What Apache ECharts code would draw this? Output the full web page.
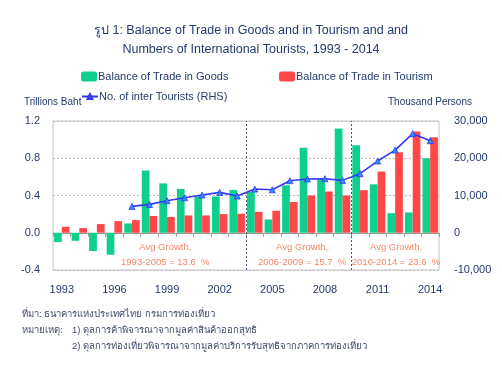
<!DOCTYPE html>
<html><head><meta charset="utf-8">
<script src="https://cdn.jsdelivr.net/npm/echarts@6/dist/echarts.min.js"></script>
<style>html,body{margin:0;padding:0;background:#fff}#c{width:502px;height:369px}</style>
</head><body><div id="c"></div>
<script>
const years = ['1993','1994','1995','1996','1997','1998','1999','2000','2001','2002','2003','2004','2005','2006','2007','2008','2009','2010','2011','2012','2013','2014'];
const goods = [-0.10,-0.086,-0.196,-0.236,0.10,0.668,0.53,0.47,0.39,0.39,0.46,0.44,0.143,0.51,0.914,0.575,1.12,0.94,0.52,0.21,0.218,0.80];
const tourism = [0.064,0.05,0.093,0.125,0.136,0.18,0.17,0.186,0.186,0.20,0.204,0.225,0.236,0.33,0.40,0.443,0.40,0.457,0.657,0.864,1.086,1.025];
const tourists = [null,null,null,null,7075,7612,8600,9400,10120,10835,9850,11730,11550,13970,14420,14500,14060,15850,19250,22200,26600,24700];
const leftTicks = [-0.4,0.0,0.4,0.8,1.2];
const rightTicks = [-10000,0,10000,20000,30000];
const periodBreaks = [11,17]; // category boundaries (index units)
const annotations = [
  {x:6.4, y:-0.16, text:'Avg Growth,'},
  {x:6.4, y:-0.32, text:'1993-2005 = 13.6  %'},
  {x:14.2, y:-0.16, text:'Avg Growth,'},
  {x:14.2, y:-0.32, text:'2006-2009 = 15.7  %'},
  {x:19.55, y:-0.16, text:'Avg Growth,'},
  {x:19.55, y:-0.32, text:'2010-2014 = 23.6  %'}
];
const names = {goods:'Balance of Trade in Goods', tourism:'Balance of Trade in Tourism', tourists:'No. of inter Tourists (RHS)'};

const FONT = '"Liberation Sans","Noto Sans",sans-serif';
const NAVY = '#243a6b';
const chart = echarts.init(document.getElementById('c'), null, {renderer:'canvas'});
chart.setOption({
  animation:false,
  textStyle:{fontFamily:FONT},
  title:{text:'รูป 1: Balance of Trade in Goods and in Tourism and and\nNumbers of International Tourists, 1993 - 2014',
    left:'center', top:21, padding:0,
    textStyle:{fontSize:12.5, fontWeight:'normal', color:NAVY, lineHeight:19, fontFamily:FONT, align:'center'}},
  legend:[
    {data:[names.goods], left:81, top:71, itemWidth:16, itemHeight:10, padding:0, textStyle:{fontSize:11,color:NAVY, padding:[0,0,0,-4]}},
    {data:[names.tourism], left:279, top:71, itemWidth:16, itemHeight:10, padding:0, textStyle:{fontSize:11,color:NAVY, padding:[0,0,0,-4]}},
    {data:[names.tourists], left:81, top:91, itemWidth:16, itemHeight:6, padding:0, textStyle:{fontSize:11,color:NAVY, padding:[0,0,0,-4]}}
  ],
  grid:{left:53, right:63, top:121, bottom:99, show:true, borderColor:'#c4c4c4', borderWidth:1, containLabel:false},
  xAxis:[
    {type:'category', data:years, boundaryGap:true,
     axisLine:{onZero:true, lineStyle:{color:'#9a9a9a'}},
     axisTick:{show:true, interval:0, length:4, lineStyle:{color:'#9a9a9a'}},
     axisLabel:{show:false}, splitLine:{show:false}},
    {type:'category', data:years, boundaryGap:true, position:'bottom',
     axisLine:{show:false, onZero:false}, axisTick:{show:false},
     axisLabel:{interval:2, margin:14, fontSize:11, color:NAVY}, splitLine:{show:false}},
    {type:'value', min:0, max:22, show:false, position:'top'}
  ],
  yAxis:[
    {type:'value', min:leftTicks[0], max:leftTicks[leftTicks.length-1], interval:0.4,
     axisLine:{show:false}, axisTick:{show:false},
     axisLabel:{margin:13, fontSize:11, color:NAVY, formatter:v=>v.toFixed(1)},
     splitLine:{show:true, lineStyle:{color:'#bdbdbd', type:[2,2]}}},
    {type:'value', min:rightTicks[0], max:rightTicks[rightTicks.length-1], interval:10000,
     axisLine:{show:false}, axisTick:{show:false},
     axisLabel:{margin:15, fontSize:11, color:NAVY, formatter:v=>v.toLocaleString('en-US')},
     splitLine:{show:false}}
  ],
  series:[
    {name:names.goods, type:'bar', data:goods, xAxisIndex:0, yAxisIndex:0,
     itemStyle:{color:'#0fcf8d'}, barGap:'0%', barCategoryGap:'12%'},
    {name:names.tourism, type:'bar', data:tourism, xAxisIndex:0, yAxisIndex:0,
     itemStyle:{color:'#ff4747'}, barGap:'0%', barCategoryGap:'12%'},
    {name:names.tourists, type:'line', data:tourists, xAxisIndex:0, yAxisIndex:1,
     symbol:'triangle', symbolSize:6, showSymbol:true,
     lineStyle:{color:'#3535f5', width:1.6},
     itemStyle:{color:'#2f8dff', borderColor:'#3535f5', borderWidth:0.8}},
    {type:'scatter', xAxisIndex:2, yAxisIndex:0, symbolSize:1, silent:true,
     itemStyle:{color:'rgba(0,0,0,0)'},
     data:annotations.map(a=>({value:[a.x,a.y], name:a.text})),
     label:{show:true, position:'inside', formatter:p=>p.name, color:'#f2673f', fontSize:9.5},
     markLine:{silent:true, symbol:['none','none'], label:{show:false},
       lineStyle:{color:'#4a5a7a', type:[2,2], width:1},
       data:periodBreaks.map(b=>({xAxis:b}))}}
  ],
  graphic:[
    {type:'text', left:24, top:97, style:{text:'Trillions Baht', fontSize:10, fill:NAVY, fontFamily:FONT}},
    {type:'text', left:388, top:97, style:{text:'Thousand Persons', fontSize:10, fill:NAVY, fontFamily:FONT}},
    {type:'text', left:22, top:309, style:{text:'ที่มา: ธนาคารแห่งประเทศไทย กรมการท่องเที่ยว', fontSize:9.5, fill:'#3d4a66', fontFamily:FONT}},
    {type:'text', left:22, top:325, style:{text:'หมายเหตุ:', fontSize:9.5, fill:'#3d4a66', fontFamily:FONT}},
    {type:'text', left:72, top:325, style:{text:'1) ดุลการค้าพิจารณาจากมูลค่าสินค้าออกสุทธิ', fontSize:9.5, fill:'#3d4a66', fontFamily:FONT}},
    {type:'text', left:72, top:341, style:{text:'2) ดุลการท่องเที่ยวพิจารณาจากมูลค่าบริการรับสุทธิจากภาคการท่องเที่ยว', fontSize:9.5, fill:'#3d4a66', fontFamily:FONT}}
  ]
});
</script></body></html>
